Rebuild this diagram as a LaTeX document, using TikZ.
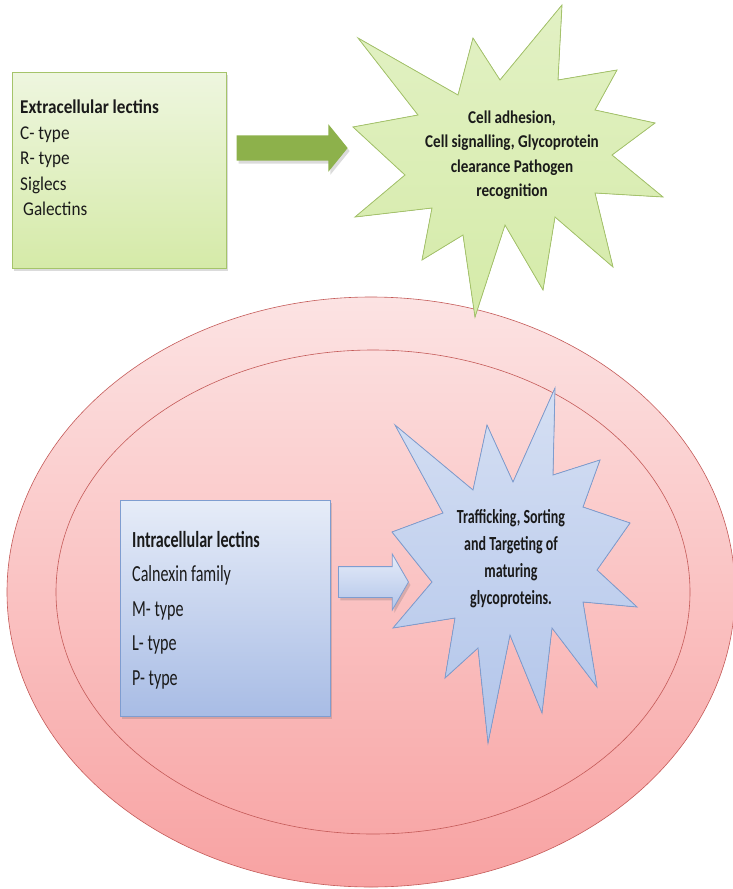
\documentclass[tikz,border=0pt]{standalone}
\usepackage{fontspec}
\setmainfont{Carlito}[FakeStretch=0.88]
\newfontfamily\media{Carlito}[FakeStretch=0.84]
\newfontfamily\estrecha{Carlito}[FakeStretch=0.7]
\usetikzlibrary{shapes.geometric, shapes.arrows, shadows}
\definecolor{vcajaarr}{HTML}{EEF6DF}
\definecolor{vcajaab}{HTML}{D5EAA8}
\definecolor{vborde}{HTML}{A5C46A}
\definecolor{vflecha}{HTML}{8DB14B}
\definecolor{vestarr}{HTML}{E2F1C4}
\definecolor{vestab}{HTML}{D5EBA9}
\definecolor{rosaarr}{HTML}{FCE3E3}
\definecolor{rosaab}{HTML}{F8A2A2}
\definecolor{rosaborde}{HTML}{C45A58}
\definecolor{acajaarr}{HTML}{E6ECF8}
\definecolor{acajaab}{HTML}{A8BCE5}
\definecolor{aborde}{HTML}{7F9DD0}
\definecolor{aestarr}{HTML}{D5DFF3}
\definecolor{aestab}{HTML}{B2C5EA}
\definecolor{texto}{HTML}{1A1A1A}
\tikzset{
  sombra/.style      = {drop shadow={shadow xshift=2pt, shadow yshift=-3pt, opacity=0.2, fill=black!70}},
  cajaverde/.style   = {rectangle, draw=vborde, line width=0.8pt, top color=vcajaarr, bottom color=vcajaab, inner sep=0pt, sombra},
  cajaazul/.style    = {rectangle, draw=aborde, line width=0.8pt, top color=acajaarr, bottom color=acajaab, inner sep=0pt, sombra},
  flechaverde/.style = {single arrow, fill=vflecha, inner xsep=0pt, inner ysep=12.5pt, outer sep=0pt, sombra},
  flechaazul/.style  = {single arrow, draw=aborde, line width=0.8pt, top color=acajaarr, bottom color=aestab, inner xsep=0pt, inner ysep=15pt, outer sep=0pt, sombra},
  estrellaverde/.style = {draw=vborde, line width=0.8pt, top color=vestarr, bottom color=vestab, line join=miter},
  estrellaazul/.style  = {draw=aborde, line width=0.8pt, top color=aestarr, bottom color=aestab, line join=miter},
  celda/.style       = {ellipse, draw=rosaborde, line width=0.6pt, inner sep=0pt},
  lista/.style       = {align=left, anchor=north west, inner sep=0pt, text=texto},
  rotulo/.style      = {align=center, inner sep=0pt, text=texto}
}
\begin{document}
\begin{tikzpicture}[x=1pt, y=-1pt]
  \useasboundingbox (0,0) rectangle (733,889);

  % celula y membrana interna
  \node[celda, top color=rosaarr, bottom color=rosaab, minimum width=728, minimum height=590] (cell) at (371,592) {};
  \node[celda, minimum width=634, minimum height=484] (inner) at (373,592) {};

  % lectinas extracelulares
  \node[cajaverde, minimum width=214, minimum height=196, anchor=north west] (extlec) at (12,72) {};
  \node[lista, font=\fontsize{19.5}{25.5}\selectfont] (extlista) at (20,100)
    {\textbf{Extracellular lectins}\\C- type\\R- type\\Siglecs\\\hspace{3pt}Galectins};
  \node[flechaverde, minimum height=111, single arrow head extend=11,
        single arrow tip angle=102] (extflecha) at (287,148) {};

  \filldraw[estrellaverde] (358,38) -- (458,95) -- (473,38) -- (500,80) -- (562,5) -- (558,80)
    -- (617,70) -- (595,110) -- (655,123) -- (612,155) -- (663,197) -- (595,193) -- (613,267)
    -- (555,217) -- (543,290) -- (505,225) -- (475,317) -- (463,235) -- (422,260) -- (432,208)
    -- (355,217) -- (405,175) -- (353,127) -- (418,115) -- cycle;
  \node[rotulo, font=\media\fontsize{18}{24.5}\selectfont\bfseries] (extfun) at (512,155)
    {Cell adhesion,\\Cell signalling, Glycoprotein\\clearance Pathogen\\recognition};

  % lectinas intracelulares
  \node[cajaazul, minimum width=210, minimum height=216, anchor=north west] (intlec) at (120,500) {};
  \node[lista, font=\estrecha\fontsize{23}{34.5}\selectfont] (intlista) at (132,531)
    {\textbf{Intracellular lectins}\\Calnexin family\\M- type\\L- type\\P- type};
  \node[flechaazul, minimum height=70, single arrow head extend=12.5,
        single arrow tip angle=120] (intflecha) at (369,582) {};

  \filldraw[estrellaazul] (395,425) -- (473,490) -- (487,425) -- (513,482) -- (555,388) -- (553,475)
    -- (600,460) -- (583,507) -- (630,523) -- (597,570) -- (637,607) -- (583,602) -- (597,687)
    -- (552,628) -- (542,713) -- (510,635) -- (488,743) -- (478,648) -- (445,678) -- (455,618)
    -- (393,628) -- (432,582) -- (392,532) -- (443,513) -- cycle;
  \node[rotulo, font=\estrecha\fontsize{20}{27}\selectfont\bfseries] (intfun) at (511,559)
    {Trafficking, Sorting\\and Targeting of\\maturing\\glycoproteins.};
\end{tikzpicture}
\end{document}
